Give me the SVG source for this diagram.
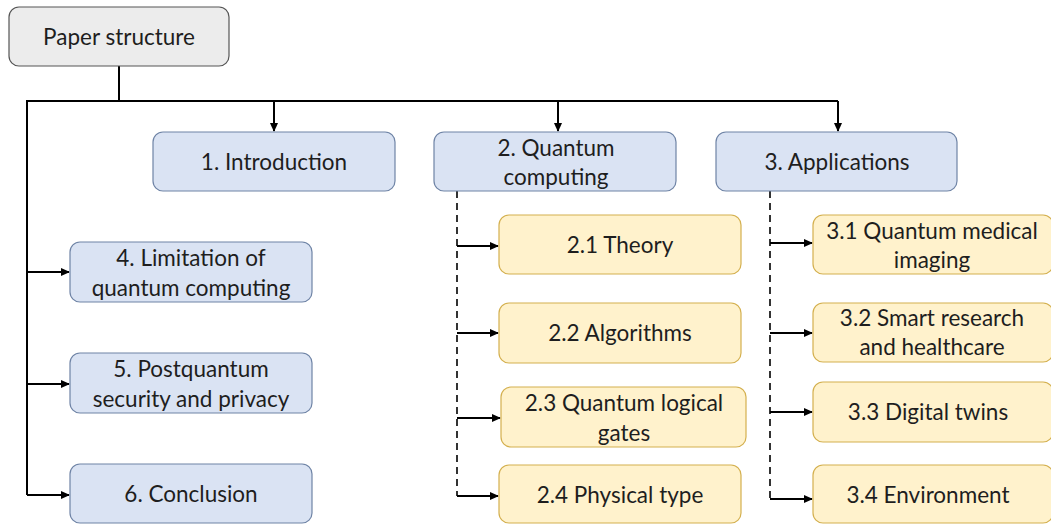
<svg xmlns="http://www.w3.org/2000/svg" width="1051" height="524" viewBox="0 0 1051 524">
<defs>
<marker id="ah" markerWidth="9" markerHeight="9" refX="8" refY="4.5" orient="auto" markerUnits="userSpaceOnUse">
<path d="M0,0.5 L9,4.5 L0,8.5 Z" fill="#000"/>
</marker>
<style>
text{font-family:Lato,"Open Sans","Liberation Sans",sans-serif;font-size:22.5px;fill:#1e1e1e;text-anchor:middle}
.g{fill:#ececec;stroke:#555;stroke-width:1.2}
.b{fill:#dae3f3;stroke:#6f84a6;stroke-width:1.2}
.y{fill:#fff2cc;stroke:#d4b04f;stroke-width:1.2}
.s{fill:none;stroke:#000;stroke-width:2}
.d{fill:none;stroke:#000;stroke-width:1.6;stroke-dasharray:7,5}
</style>
</defs>
<rect width="1051" height="524" fill="#fff"/>
<g id="connectors">
<polyline class="s" points="119,66 119,101 27,101 27,495"/>
<line class="s" x1="119" y1="101" x2="838" y2="101"/>
<line class="s" x1="274" y1="101" x2="274" y2="131" marker-end="url(#ah)"/>
<line class="s" x1="558" y1="101" x2="558" y2="131" marker-end="url(#ah)"/>
<line class="s" x1="838" y1="101" x2="838" y2="131" marker-end="url(#ah)"/>
<line class="s" x1="27" y1="272" x2="69" y2="272" marker-end="url(#ah)"/>
<line class="s" x1="27" y1="384" x2="69" y2="384" marker-end="url(#ah)"/>
<line class="s" x1="27" y1="495" x2="69" y2="495" marker-end="url(#ah)"/>
<polyline class="d" points="457,191 457,496"/>
<line class="s" x1="457" y1="246" x2="498" y2="246" marker-end="url(#ah)"/>
<line class="s" x1="457" y1="333" x2="498" y2="333" marker-end="url(#ah)"/>
<line class="s" x1="457" y1="418" x2="500" y2="418" marker-end="url(#ah)"/>
<line class="s" x1="457" y1="496" x2="498" y2="496" marker-end="url(#ah)"/>
<polyline class="d" points="770,191 770,499"/>
<line class="s" x1="770" y1="243" x2="812" y2="243" marker-end="url(#ah)"/>
<line class="s" x1="770" y1="333" x2="812" y2="333" marker-end="url(#ah)"/>
<line class="s" x1="770" y1="412" x2="812" y2="412" marker-end="url(#ah)"/>
<line class="s" x1="770" y1="499" x2="812" y2="499" marker-end="url(#ah)"/>
</g>
<g id="paper"><rect class="g" x="9" y="7" width="220" height="59" rx="10"/><text x="119" y="45">Paper structure</text></g>
<g id="n1"><rect class="b" x="153" y="132" width="242" height="59" rx="10"/><text x="274" y="170">1. Introduction</text></g>
<g id="n2"><rect class="b" x="434" y="132" width="242" height="59" rx="10"/><text x="556" y="156">2. Quantum</text><text x="556" y="185">computing</text></g>
<g id="n3"><rect class="b" x="716" y="132" width="241" height="59" rx="10"/><text x="837" y="170">3. Applications</text></g>
<g id="n4"><rect class="b" x="70" y="242" width="242" height="60" rx="10"/><text x="191" y="266">4. Limitation of</text><text x="191" y="296">quantum computing</text></g>
<g id="n5"><rect class="b" x="70" y="353" width="242" height="60" rx="10"/><text x="191" y="377">5. Postquantum</text><text x="191" y="407">security and privacy</text></g>
<g id="n6"><rect class="b" x="70" y="464" width="242" height="59" rx="10"/><text x="191" y="502">6. Conclusion</text></g>
<g id="n21"><rect class="y" x="499" y="215" width="242" height="59" rx="10"/><text x="620" y="253">2.1 Theory</text></g>
<g id="n22"><rect class="y" x="499" y="303" width="242" height="60" rx="10"/><text x="620" y="341">2.2 Algorithms</text></g>
<g id="n23"><rect class="y" x="501" y="387" width="245" height="60" rx="10"/><text x="624" y="411">2.3 Quantum logical</text><text x="624" y="441">gates</text></g>
<g id="n24"><rect class="y" x="499" y="465" width="242" height="58" rx="10"/><text x="620" y="503">2.4 Physical type</text></g>
<g id="n31"><rect class="y" x="813" y="215" width="240" height="59" rx="10"/><text x="932" y="239">3.1 Quantum medical</text><text x="932" y="268">imaging</text></g>
<g id="n32"><rect class="y" x="813" y="303" width="240" height="59" rx="10"/><text x="932" y="326">3.2 Smart research</text><text x="932" y="355">and healthcare</text></g>
<g id="n33"><rect class="y" x="813" y="382" width="240" height="60" rx="10"/><text x="928" y="420">3.3 Digital twins</text></g>
<g id="n34"><rect class="y" x="813" y="465" width="240" height="58" rx="10"/><text x="928" y="503">3.4 Environment</text></g>
</svg>
